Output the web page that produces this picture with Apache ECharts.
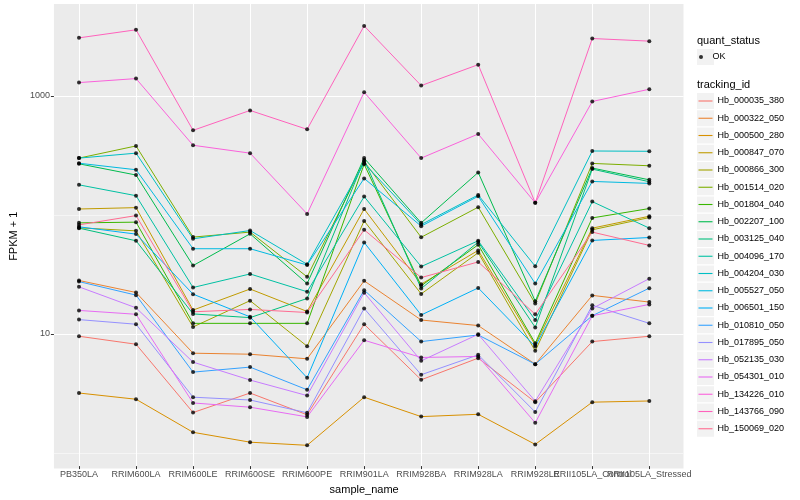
<!DOCTYPE html>
<html><head><meta charset="utf-8">
<script src="https://cdn.jsdelivr.net/npm/echarts@6/dist/echarts.min.js"></script>
<style>html,body{margin:0;padding:0;background:#fff}#c{width:800px;height:500px}</style>
</head><body><div id="c"></div>
<script>
const categories = ['PB350LA','RRIM600LA','RRIM600LE','RRIM600SE','RRIM600PE','RRIM901LA','RRIM928BA','RRIM928LA','RRIM928LE','RRII105LA_Control','RRII105LA_Stressed'];
const trackingIds = ['Hb_000035_380','Hb_000322_050','Hb_000500_280','Hb_000847_070','Hb_000866_300','Hb_001514_020','Hb_001804_040','Hb_002207_100','Hb_003125_040','Hb_004096_170','Hb_004204_030','Hb_005527_050','Hb_006501_150','Hb_010810_050','Hb_017895_050','Hb_052135_030','Hb_054301_010','Hb_134226_010','Hb_143766_090','Hb_150069_020'];
const palette = ['#F8766D','#EA8331','#D89000','#C09B00','#A3A500','#7CAE00','#39B600','#00BB4E','#00BF7D','#00C1A3','#00BFC4','#00BAE0','#00B0F6','#35A2FF','#9590FF','#C77CFF','#E76BF3','#FA62DB','#FF62BC','#FF6C91'];

const Hb_000035_380 = [9.26, 7.93, 2.10, 3.07, 2.01, 11.7, 3.97, 6.05, 2.57, 8.35, 9.26];
const Hb_000322_050 = [27.4, 21.7, 6.66, 6.53, 5.97, 27.2, 12.7, 11.4, 5.38, 20.5, 18.0];
const Hb_000500_280 = [3.07, 2.72, 1.43, 1.18, 1.11, 2.83, 1.94, 2.03, 1.13, 2.57, 2.63];
const Hb_000847_070 = [110, 113, 15.4, 23.2, 15.0, 110, 25.5, 49.2, 7.82, 75.8, 95.6];
const Hb_000866_300 = [76.3, 71.9, 11.1, 18.5, 7.63, 87.3, 21.1, 47.0, 6.97, 73.4, 93.1];
const Hb_001514_020 = [296, 375, 63.7, 70.2, 29.4, 277, 63.5, 114, 17.5, 267, 255];
const Hb_001804_040 = [84.0, 85.2, 11.9, 11.9, 11.9, 263, 24.7, 54.9, 8.08, 92.5, 111];
const Hb_002207_100 = [265, 213, 36.6, 67.9, 25.8, 296, 84.0, 224, 18.3, 244, 194];
const Hb_003125_040 = [75.8, 59.3, 14.3, 13.3, 19.3, 286, 23.4, 57.8, 11.0, 239, 187];
const Hb_004096_170 = [176, 142.5, 23.9, 31.1, 22.0, 140, 35.9, 59.3, 12.7, 127, 75.8];
const Hb_004204_030 = [296, 326, 61.6, 72.4, 37.5, 268, 81.3, 144.5, 36.1, 340, 338];
const Hb_005527_050 = [268, 236, 50.8, 50.8, 37.0, 199.5, 78.8, 141, 25.8, 188, 181];
const Hb_006501_150 = [77.8, 67.5, 21.0, 13.5, 4.13, 57.4, 14.0, 23.7, 7.58, 59.7, 63.2];
const Hb_010810_050 = [26.8, 20.6, 4.61, 5.08, 3.27, 22.7, 8.35, 9.49, 5.38, 13.8, 23.6];
const Hb_017895_050 = [12.8, 11.7, 2.83, 2.68, 2.09, 15.9, 4.38, 6.45, 2.12, 16.9, 11.9];
const Hb_052135_030 = [24.2, 16.1, 5.60, 3.95, 2.92, 21.6, 5.74, 9.62, 2.62, 15.9, 28.4];
const Hb_054301_010 = [15.3, 14.2, 2.53, 2.33, 1.93, 8.57, 6.13, 6.25, 1.72, 13.8, 17.2];
const Hb_134226_010 = [1286, 1390, 380, 326, 100, 1066, 296, 473, 124, 891, 1130];
const Hb_143766_090 = [3070, 3590, 508, 748, 518, 3875, 1213, 1823, 124, 3030, 2880];
const Hb_150069_020 = [80.8, 96.8, 14.9, 15.6, 14.7, 73.4, 29.0, 39.3, 14.2, 70.2, 54.2];

const seriesValues = [Hb_000035_380, Hb_000322_050, Hb_000500_280, Hb_000847_070, Hb_000866_300, Hb_001514_020, Hb_001804_040, Hb_002207_100, Hb_003125_040, Hb_004096_170, Hb_004204_030, Hb_005527_050, Hb_006501_150, Hb_010810_050, Hb_017895_050, Hb_052135_030, Hb_054301_010, Hb_134226_010, Hb_143766_090, Hb_150069_020];
const yTickValues = [10, 1000];
const yMin = 0.741, yMax = 5930;

const FONT = 'Liberation Sans, Arial, sans-serif';
const MAJOR = '#FFFFFF', MINOR = '#F5F5F5', NONE = 'rgba(0,0,0,0)';
const chart = echarts.init(document.getElementById('c'), null, {renderer: 'canvas'});

const points = [];
seriesValues.forEach(vals => vals.forEach((v, i) => points.push([categories[i], v])));

const lineSeries = trackingIds.map((id, k) => ({
  name: id, type: 'line', xAxisIndex: 1, yAxisIndex: 1,
  data: seriesValues[k], color: palette[k],
  showSymbol: false, symbol: 'none', silent: true, z: 2,
  lineStyle: {width: 1, color: palette[k]}
}));

const keyBoxes = trackingIds.map((_, i) => ({
  type: 'rect', x: 697, y: 93 + i * 17.25, shape: {width: 17, height: 16},
  style: {fill: '#F2F2F2'}, silent: true
}));
keyBoxes.push({type: 'rect', x: 697, y: 49, shape: {width: 17, height: 16}, style: {fill: '#F2F2F2'}, silent: true});

chart.setOption({
  animation: false,
  backgroundColor: '#FFFFFF',
  textStyle: {fontFamily: FONT},
  title: [
    {text: 'quant_status', left: 697, top: 34, padding: 0, textStyle: {fontSize: 11, fontWeight: 'normal', color: '#000', fontFamily: FONT, lineHeight: 13}},
    {text: 'tracking_id', left: 697, top: 78, padding: 0, textStyle: {fontSize: 11, fontWeight: 'normal', color: '#000', fontFamily: FONT, lineHeight: 13}}
  ],
  graphic: keyBoxes,
  legend: [
    {data: ['OK'], left: 699, top: 49, orient: 'vertical', padding: 0, itemWidth: 13, itemHeight: 4, icon: 'circle',
     selectedMode: false, itemStyle: {color: '#000'}, textStyle: {fontSize: 9, color: '#000', lineHeight: 16, fontFamily: FONT}},
    {data: trackingIds, left: 698.5, top: 93, orient: 'vertical', padding: 0, itemWidth: 14, itemHeight: 1.1, itemGap: 1.25,
     icon: 'rect', symbolKeepAspect: false, selectedMode: false, itemStyle: {borderWidth: 0},
     textStyle: {fontSize: 9, color: '#000', lineHeight: 16, fontFamily: FONT}}
  ],
  grid: [
    {left: 45, right: 116.5, top: 4, bottom: 31.5, show: true, backgroundColor: '#EBEBEB', borderWidth: 0},
    {left: 79, right: 150.7, top: 4, bottom: 31.5, show: false}
  ],
  xAxis: [
    {gridIndex: 0, type: 'value', min: 0, max: 1, axisLine: {show: false}, axisTick: {show: false}, axisLabel: {show: false}, splitLine: {show: false}},
    {gridIndex: 1, type: 'category', data: categories, boundaryGap: false,
     axisLine: {show: false},
     axisTick: {show: true, length: 3, lineStyle: {color: '#333333', width: 1}},
     axisLabel: {interval: 0, fontSize: 9, color: '#4D4D4D', margin: 4, fontFamily: FONT},
     splitLine: {show: true, lineStyle: {color: '#FFFFFF', width: 1}},
     name: 'sample_name', nameLocation: 'middle', nameGap: 15,
     nameTextStyle: {fontSize: 11, color: '#000', fontFamily: FONT}}
  ],
  yAxis: [
    {gridIndex: 0, type: 'log', logBase: 10, min: yMin, max: yMax,
     axisLine: {show: false},
     axisTick: {show: true, length: 3, lineStyle: {color: '#333333', width: 1}, customValues: yTickValues},
     axisLabel: {customValues: yTickValues, fontSize: 9, color: '#4D4D4D', margin: 4, fontFamily: FONT,
                 formatter: v => String(Math.round(v))},
     splitLine: {show: false},
     name: 'FPKM + 1', nameLocation: 'middle', nameGap: 27, nameRotate: 90,
     nameTextStyle: {fontSize: 11, color: '#000', fontFamily: FONT}},
    {gridIndex: 1, type: 'log', logBase: 10, min: yMin, max: yMax, show: false},
    {gridIndex: 0, type: 'log', logBase: 10, min: yMin, max: yMax,
     axisLine: {show: false}, axisTick: {show: false}, axisLabel: {show: false},
     splitLine: {show: true, lineStyle: {color: [NONE, MINOR, MAJOR, MINOR, MAJOR, NONE], width: 1}}}
  ],
  series: lineSeries.concat([{
    name: 'OK', type: 'scatter', xAxisIndex: 1, yAxisIndex: 1, data: points,
    symbol: 'circle', symbolSize: 4, itemStyle: {color: '#000'}, silent: true, z: 3
  }])
});
</script></body></html>
